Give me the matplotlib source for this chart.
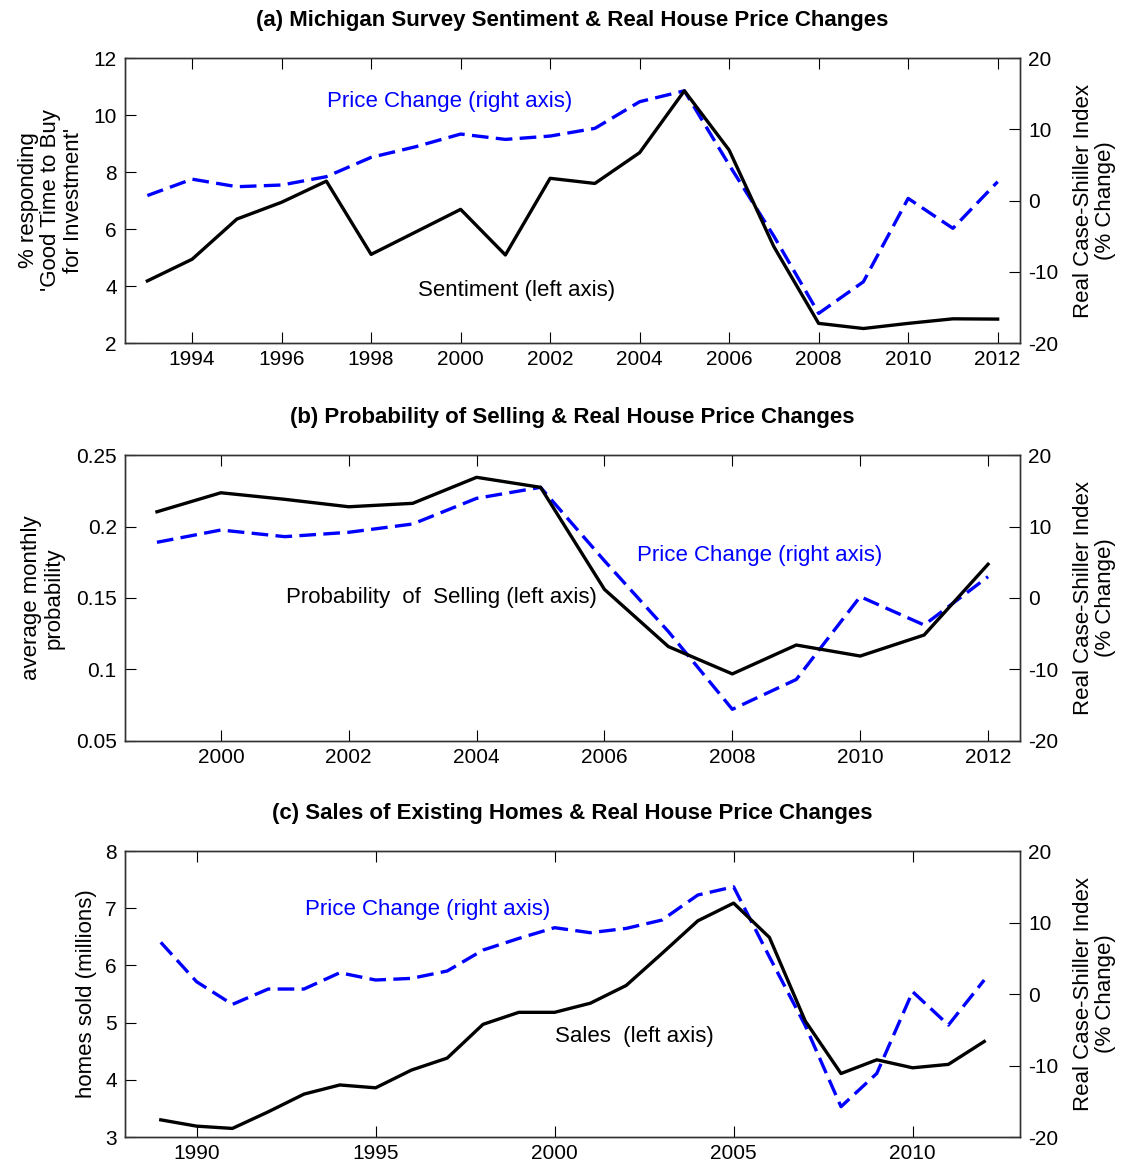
import numpy as np
import matplotlib
matplotlib.use("Agg")
import matplotlib.pyplot as plt

plt.rcParams['font.family'] = ['Liberation Sans', 'DejaVu Sans']
plt.rcParams['axes.unicode_minus'] = False

# (a) Michigan survey sentiment
years_a = list(range(1993, 2013))
sentiment = [4.18, 4.94, 6.35, 6.94, 7.68, 5.11, 5.9, 6.69, 5.09, 7.78,
             7.6, 8.68, 10.85, 8.77, 5.38, 2.69, 2.51, 2.69, 2.85, 2.84]
price_a = [0.7, 3.0, 1.94, 2.18, 3.35, 6.06, 7.56, 9.33, 8.58, 9.05,
           10.13, 13.87, 15.4, 5.0, -5.0, -15.84, -11.4, 0.3, -3.9, 2.64]

# (b) probability of selling
years_b = list(range(1999, 2013))
prob_sell = [0.2103, 0.2236, 0.219, 0.2138, 0.2162, 0.2344, 0.2274, 0.156,
             0.116, 0.0969, 0.1171, 0.1094, 0.1241, 0.1736]
price_b = [7.79, 9.51, 8.58, 9.19, 10.35, 13.94, 15.48, 5.2, -4.7, -15.57,
           -11.4, 0.19, -3.78, 2.98]

# (c) existing home sales
years_c = list(range(1989, 2013))
sales = [3.30, 3.19, 3.15, 3.44, 3.75, 3.91, 3.86, 4.17, 4.38, 4.97, 5.18,
         5.18, 5.34, 5.65, 6.21, 6.78, 7.09, 6.49, 5.03, 4.11, 4.35, 4.21,
         4.27, 4.67]
price_c = [7.23, 1.72, -1.45, 0.7, 0.7, 2.98, 1.96, 2.19, 3.22, 6.15, 7.78,
           9.28, 8.58, 9.18, 10.35, 13.85, 15.0, 5.2, -4.4, -15.76, -11.1,
           0.33, -4.34, 1.96]

fig = plt.figure(figsize=(11.23, 11.7), dpi=100)

panels = [
    dict(title='(a) Michigan Survey Sentiment & Real House Price Changes',
         rect=[0.1113, 0.7068, 0.797, 0.2436], x=years_a, left=sentiment, right=price_a,
         xlim=(1992.5, 2012.5), xticks=range(1994, 2013, 2),
         ylim=(2, 12), yticks=range(2, 13, 2),
         ylabel="% responding\n'Good Time to Buy\nfor Investment'", ylab_x=-0.046,
         blue_txt=(1997.02, 10.46), black_txt=(1999.04, 3.86),
         black_label='Sentiment (left axis)'),
    dict(title='(b) Probability of Selling & Real House Price Changes',
         rect=[0.1113, 0.3667, 0.797, 0.2444], x=years_b, left=prob_sell, right=price_b,
         xlim=(1998.5, 2012.5), xticks=range(2000, 2013, 2),
         ylim=(0.05, 0.25), yticks=[0.05, 0.1, 0.15, 0.2, 0.25],
         ylabel='average monthly\nprobability', ylab_x=-0.067,
         blue_txt=(2006.51, 0.1794), black_txt=(2001.02, 0.15),
         black_label='Probability  of  Selling (left axis)'),
    dict(title='(c) Sales of Existing Homes & Real House Price Changes',
         rect=[0.1113, 0.0282, 0.797, 0.2444], x=years_c, left=sales, right=price_c,
         xlim=(1988, 2013), xticks=range(1990, 2011, 5),
         ylim=(3, 8), yticks=range(3, 9),
         ylabel='homes sold (millions)', ylab_x=-0.031,
         blue_txt=(1993.03, 6.97), black_txt=(2000.01, 4.75),
         black_label='Sales  (left axis)'),
]

for p in panels:
    ax = fig.add_axes(p['rect'])
    ax2 = ax.twinx()
    ax.plot(p['x'], p['left'], color='black', lw=2.4, zorder=3)
    ax2.plot(p['x'], p['right'], color='blue', lw=2.4, ls=(0, (5, 2.2)))
    ax.set_zorder(ax2.get_zorder() + 1)
    ax.patch.set_visible(False)

    ax.set_xlim(*p['xlim'])
    ax.set_xticks(list(p['xticks']))
    ax.set_ylim(*p['ylim'])
    ax.set_yticks(list(p['yticks']))
    ax.set_yticklabels(['%g' % v for v in p['yticks']])
    ax2.set_ylim(-20, 20)
    ax2.set_yticks([-20, -10, 0, 10, 20])

    ax.tick_params(axis='x', direction='in', top=True, length=8, labelsize=15, pad=5)
    ax.tick_params(axis='y', direction='in', length=8, labelsize=15, pad=6)
    ax2.tick_params(axis='y', direction='in', length=8, labelsize=15, pad=6)
    for a in (ax, ax2):
        for s in a.spines.values():
            s.set_color('#333333')
            s.set_linewidth(1.0)

    ax.set_ylabel(p['ylabel'], fontsize=16, linespacing=1.1)
    ax.yaxis.set_label_coords(p['ylab_x'], 0.5)
    ax2.set_ylabel('Real Case-Shiller Index\n(% Change)', fontsize=16, linespacing=1.1)
    ax2.yaxis.set_label_coords(1.059, 0.5)
    ax.set_title(p['title'], fontsize=16, fontweight='bold', pad=23)

    ax.text(p['blue_txt'][0], p['blue_txt'][1], 'Price Change (right axis)',
            color='blue', fontsize=16, va='center', ha='left')
    ax.text(p['black_txt'][0], p['black_txt'][1], p['black_label'],
            color='black', fontsize=16, va='center', ha='left')

fig.savefig('out.png', dpi=100)
